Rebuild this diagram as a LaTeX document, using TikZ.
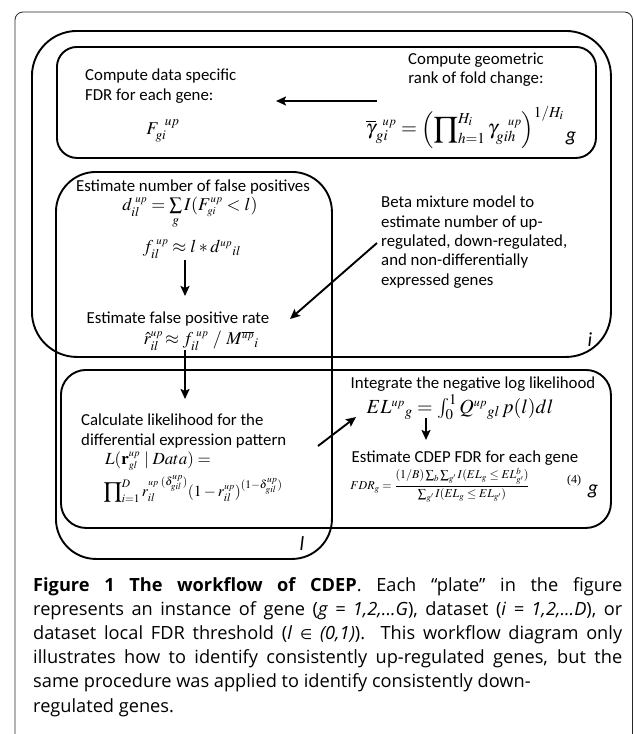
\documentclass[tikz,border=0pt]{standalone}
\usepackage{mathptmx}
\usepackage[no-math]{fontspec}
\setmainfont{Liberation Serif}
\newfontfamily\diagfont{Carlito}
\newfontfamily\capfont{Open Sans}
\usetikzlibrary{arrows.meta}
\newcommand{\tup}{{\scriptscriptstyle up}}
\newcommand{\tsb}[1]{{\scriptscriptstyle #1}}
\begin{document}
\begin{tikzpicture}[x=1pt,y=-1pt,
  plate/.style={draw=black,line width=1.9pt,rounded corners=#1,inner sep=0pt,anchor=north west},
  capframe/.style={draw=black!85,line width=0.8pt,rounded corners=8pt},
  lbl/.style={font=\diagfont\fontsize{16.8}{19.3}\selectfont,inner sep=0pt,align=center},
  lbll/.style={font=\diagfont\fontsize{16.8}{19.3}\selectfont,inner sep=0pt,align=left},
  fml/.style={font=\fontsize{18}{20}\selectfont,inner sep=0pt},
  plab/.style={font=\diagfont\itshape\fontsize{20}{20}\selectfont,inner sep=0pt},
  capline/.style={font=\capfont\fontsize{18.2}{24}\selectfont,inner sep=0pt,anchor=base west},
  arr/.style={-{Stealth[length=10pt,width=9pt,inset=2pt]},line width=1.9pt},
]
\useasboundingbox (0,0) rectangle (633,734);
% outer frame
\draw[capframe] (15,734) -- (15,12) -- (632.5,12) -- (632.5,734);

% plates
\node[plate=45pt,minimum width=579pt,minimum height=326pt] (iplate) at (31,30) {};
\node[plate=20pt,minimum width=539pt,minimum height=111pt] (gtop) at (56,46) {};
\node[plate=40pt,minimum width=276pt,minimum height=387pt] (lplate) at (55,171) {};
\node[plate=25pt,minimum width=550pt,minimum height=158pt] (gbot) at (60,369) {};

% top g plate
\node[lbll,anchor=west] (fdrtxt) at (85,86) {Compute data specific\\FDR for each gene:};
\node[fml] (Fgi) at (163,131) {$F_{gi}^{\;\;up}$};
\node[lbl] (geotxt) at (476,70) {Compute geometric\\rank of fold change:};
\node[inner sep=0pt,font=\fontsize{20.5}{22}\selectfont] (gamma) at (465,127) {$\overline{\gamma}_{gi}^{\;\;\tup} = \left(\displaystyle\prod\nolimits_{h=1}^{H_i} \gamma_{gih}^{\;\;\;\tup}\right)^{1/H_i}$};
\node[plab] (glab1) at (571,138) {g};
\coordinate (a1s) at (377,101);
\coordinate (a1e) at (276,101);
\draw[arr] (a1s) -- (a1e);

% i plate / l plate upper
\node[lbl] (estnum) at (193,187) {Estimate number of false positives};
\node[fml] (dform) at (190,213) {$d_{il}^{\;\tup} = \sum\limits_{g} I(F_{\tsb{gi}}^{\tup} < l)$};
\node[fml] (fform) at (192,249) {$f_{il}^{\;\tup} \approx l * d^{\tup}{}_{il}$};
\coordinate (a2s) at (185,260);
\coordinate (a2e) at (185,296);
\draw[arr] (a2s) -- (a2e);
\node[lbl] (estfpr) at (178,319) {Estimate false positive rate};
\node[fml] (rform) at (201,341) {$\hat{r}_{il}^{\tup}\!\approx f_{il}^{\;\tup}\ /\ M^{\overline{\tup}}{}_{i}$};
\node[lbll,anchor=north west] (beta) at (381,196) {Beta mixture model to\\estimate number of up-\\regulated, down-regulated,\\and non-differentially\\expressed genes};
\coordinate (a3s) at (377,243);
\coordinate (a3e) at (290,319);
\draw[arr] (a3s) -- (a3e);
\node[plab] (ilab) at (590,340) {i};

% arrow from l plate upper into lower g
\coordinate (a4s) at (185,350);
\coordinate (a4e) at (185,399);
\draw[arr] (a4s) -- (a4e);

% lower left
\node[lbll,anchor=west] (calc) at (81,431) {Calculate likelihood for the\\differential expression pattern};
\node[inner sep=0pt,font=\fontsize{17}{20}\selectfont,anchor=west] (Lform) at (105,461) {$L(\mathbf{r}_{\tsb{gl}}^{\tup} \mid Data) =$};
\node[inner sep=0pt,font=\fontsize{15.5}{18}\selectfont] (prodform) at (193,489) {$\displaystyle\prod\nolimits_{i=1}^{D} r_{il}^{\tup\;(\delta_{\tsb{gil}}^{\tup})}(1-r_{il}^{\tup})^{(1-\delta_{\tsb{gil}}^{\tup})}$};
\node[plab] (llab) at (302,544) {l};
\coordinate (a5s) at (318,446);
\coordinate (a5e) at (356,417);
\draw[arr] (a5s) -- (a5e);

% lower right
\node[lbl] (integ) at (473,384) {Integrate the negative log likelihood};
\node[inner sep=0pt,font=\fontsize{20}{22}\selectfont] (ELform) at (460,407) {$EL^{\tup}{}_{g} = \int_0^1 Q^{\tup}{}_{gl}\,p(l)dl$};
\coordinate (a6s) at (426,418);
\coordinate (a6e) at (426,440);
\draw[arr] (a6s) -- (a6e);
\node[lbl] (cdep) at (465,458) {Estimate CDEP FDR for each gene};
\node[inner sep=0pt,font=\fontsize{12}{13}\selectfont] (fdrform) at (440,485) {$\displaystyle FDR_g = \frac{(1/B)\sum\nolimits_b\sum\nolimits_{g'} I(EL_g \le EL^b_{g'})}{\sum\nolimits_{g'} I(EL_g \le EL_{g'})}$};
\node[inner sep=0pt,font=\fontsize{12}{13}\selectfont] (eqno) at (574,481) {(4)};
\node[plab] (glab2) at (593,491) {g};

% caption
\node[capline] (cap1) at (33,591) {\makebox[589pt][s]{\textbf{Figure 1 The workflow of CDEP}. Each “plate” in the figure}};
\node[capline] (cap2) at (33,615.2) {\makebox[589pt][s]{represents an instance of gene (\textit{g = 1,2,...G}), dataset (\textit{i = 1,2,...D}), or}};
\node[capline] (cap3) at (33,639.4) {\makebox[589pt][s]{dataset local FDR threshold (\textit{l} {\fontspec{DejaVu Sans}\fontsize{14}{14}\selectfont ∈} \textit{(0,1)}). This workflow diagram only}};
\node[capline] (cap4) at (33,663.6) {\makebox[589pt][s]{illustrates how to identify consistently up-regulated genes, but the}};
\node[capline] (cap5) at (33,687.8) {same procedure was applied to identify consistently down-};
\node[capline] (cap6) at (33,712) {regulated genes.};
\end{tikzpicture}
\end{document}
